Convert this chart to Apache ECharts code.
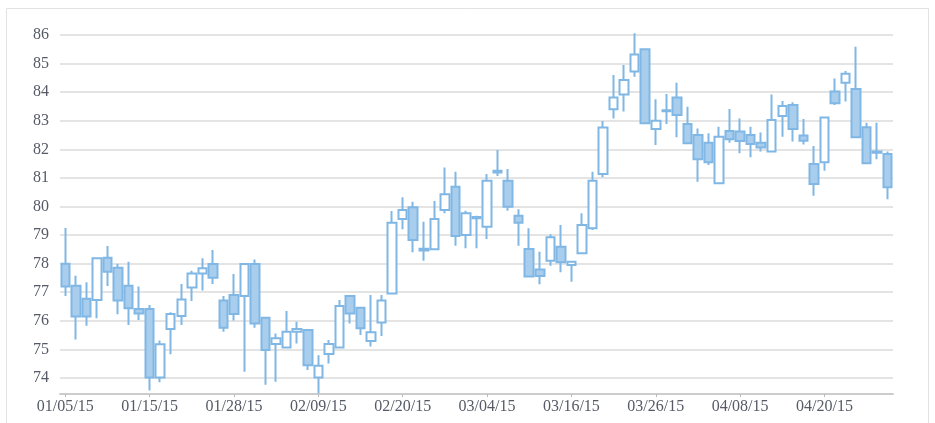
<!DOCTYPE html>
<html><head><meta charset="utf-8">
<script src="https://cdn.jsdelivr.net/npm/echarts@6/dist/echarts.min.js"></script>
<style>html,body{margin:0;padding:0;background:#fff}#c{width:935px;height:423px}</style>
</head><body><div id="c"></div><script>
const dates = ['01/05/15','01/06/15','01/07/15','01/08/15','01/09/15','01/12/15','01/13/15','01/14/15','01/15/15','01/16/15',
'01/20/15','01/21/15','01/22/15','01/23/15','01/26/15','01/27/15','01/28/15','01/29/15','01/30/15','02/02/15',
'02/03/15','02/04/15','02/05/15','02/06/15','02/09/15','02/10/15','02/11/15','02/12/15','02/13/15','02/17/15',
'02/18/15','02/19/15','02/20/15','02/23/15','02/24/15','02/25/15','02/26/15','02/27/15','03/02/15','03/03/15',
'03/04/15','03/05/15','03/06/15','03/09/15','03/10/15','03/11/15','03/12/15','03/13/15','03/16/15','03/17/15',
'03/18/15','03/19/15','03/20/15','03/23/15','03/24/15','03/25/15','03/26/15','03/27/15','03/30/15','03/31/15',
'04/01/15','04/02/15','04/06/15','04/07/15','04/08/15','04/09/15','04/10/15','04/13/15','04/14/15','04/15/15',
'04/16/15','04/17/15','04/20/15','04/21/15','04/22/15','04/23/15','04/24/15','04/27/15','04/28/15'];
const opens = [78.0,77.23,76.77,76.73,78.21,77.86,77.23,76.41,76.41,74.02,
75.71,76.17,77.17,77.66,77.99,76.71,76.9,76.87,77.99,76.11,
75.19,75.07,75.62,75.68,74.02,74.84,75.07,76.87,76.46,75.29,
75.94,76.96,79.56,79.97,78.46,78.5,79.88,80.69,79.0,79.59,
79.29,81.19,80.9,79.68,78.51,77.8,78.1,78.59,77.95,78.36,
79.24,81.14,83.4,83.92,84.72,85.5,82.71,83.33,83.81,82.89,
82.5,82.23,80.81,82.64,82.62,82.5,82.23,81.92,83.17,83.55,
82.48,81.49,81.55,84.02,84.33,84.11,82.77,81.88,81.84];
const closes = [77.2,76.15,76.15,78.19,77.72,76.71,76.44,76.26,74.02,75.18,
76.24,76.75,77.66,77.84,77.51,75.76,76.24,77.99,75.91,74.98,
75.39,75.62,75.71,74.45,74.43,75.19,76.52,76.26,75.74,75.6,
76.71,79.43,79.88,78.83,78.52,79.56,80.43,78.97,79.76,79.63,
80.9,81.25,79.99,79.43,77.55,77.57,78.92,78.05,78.07,79.35,
80.9,82.76,83.81,84.43,85.32,82.91,83.0,83.37,83.2,82.21,
81.65,81.55,82.44,82.35,82.29,82.19,82.06,83.03,83.52,82.71,
82.3,80.79,83.11,83.61,84.64,82.42,81.51,81.92,80.67];
const lows = [76.87,75.35,75.83,76.09,77.22,76.23,75.85,76.03,73.56,73.85,
74.83,75.85,76.69,77.06,77.29,75.62,76.01,74.22,75.76,73.76,
73.87,75.07,75.21,74.28,73.47,74.51,75.07,75.91,75.5,75.1,
75.47,76.96,79.2,78.4,78.1,78.5,79.76,78.63,78.54,78.54,
78.86,81.07,79.85,78.63,77.55,77.28,77.93,77.7,77.37,78.36,
79.18,81.02,83.08,83.32,84.54,82.91,82.15,82.89,82.42,82.21,
80.87,81.45,80.81,82.23,81.86,81.72,81.92,81.92,82.44,82.27,
82.17,80.38,81.25,83.55,83.67,82.42,81.51,81.65,80.25];
const highs = [79.25,77.58,77.35,78.2,78.62,78.0,78.07,77.2,76.55,75.31,
76.3,77.29,77.75,78.19,78.48,76.87,77.64,78.0,78.15,76.11,
75.56,76.34,75.97,75.71,74.8,75.33,76.73,76.87,76.46,76.9,
76.9,79.84,80.32,80.17,79.47,80.19,81.36,81.22,79.85,79.68,
81.14,81.98,81.31,79.9,79.24,78.42,79.03,79.35,78.09,79.76,
81.22,82.99,84.6,84.95,86.06,85.5,83.75,83.94,84.33,83.49,
82.73,82.56,82.79,83.41,83.08,82.79,82.59,83.92,83.69,83.65,
83.06,82.12,83.13,84.48,84.74,85.59,82.93,82.93,81.92];

const ohlc = dates.map((d, i) => [opens[i], closes[i], lows[i], highs[i]]);

const labelFont = { fontFamily: '"Liberation Serif", "Times New Roman", serif', fontSize: 16, color: '#555a66' };
const chart = echarts.init(document.getElementById('c'), null, { renderer: 'canvas' });
chart.setOption({
  animation: false,
  backgroundColor: '#ffffff',
  graphic: [{
    type: 'rect', left: 4, top: 6, silent: true, z: -10,
    shape: { width: 922, height: 460 },
    style: { fill: 'none', stroke: '#e2e2e2', lineWidth: 1 }
  }],
  grid: { left: 60, right: 42, top: 35, bottom: 29, containLabel: false },
  xAxis: {
    type: 'category', data: dates, boundaryGap: true,
    axisLine: { lineStyle: { color: '#cccccc', width: 2 } },
    axisTick: { show: true, alignWithLabel: true, interval: 7, length: 3, lineStyle: { color: '#bbbbbb' } },
    axisLabel: Object.assign({ interval: 7, margin: 5 }, labelFont),
    splitLine: { show: false }
  },
  yAxis: {
    type: 'value', min: 73.44, max: 86, minInterval: 1, maxInterval: 1, splitNumber: 12,
    axisLine: { show: false }, axisTick: { show: false },
    axisLabel: Object.assign({ margin: 11, showMinLabel: false,
      formatter: v => (Math.abs(v - Math.round(v)) < 1e-6 ? String(Math.round(v)) : '') }, labelFont),
    splitLine: { lineStyle: { color: '#e4e4e4', width: 2 } }
  },
  series: [{
    type: 'candlestick', data: ohlc, barWidth: 9, clip: false,
    itemStyle: {
      color: '#ffffff', color0: '#a9cdec',
      borderColor: '#80b7e4', borderColor0: '#80b7e4', borderColorDoji: '#80b7e4',
      borderWidth: 2
    }
  }]
});
</script></body></html>
